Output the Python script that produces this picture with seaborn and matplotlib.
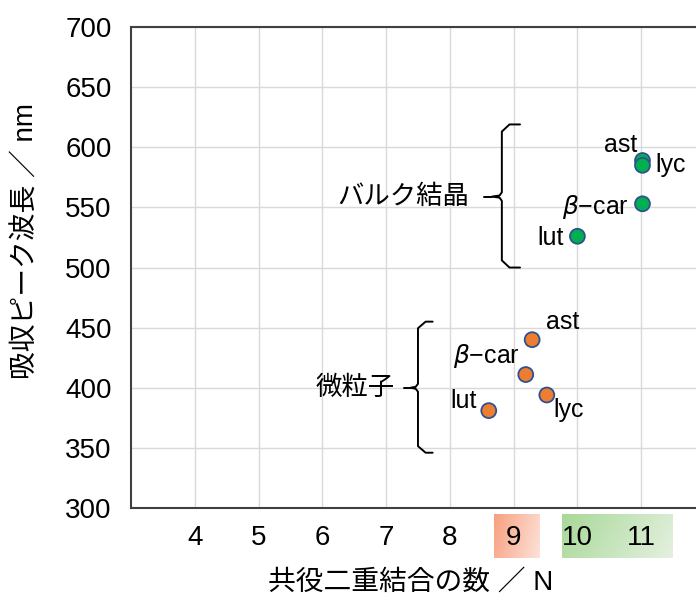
import numpy as np
import pandas as pd
import matplotlib
matplotlib.use("Agg")
import matplotlib.pyplot as plt
import seaborn as sns

# data
names = ["ast", "lyc", "β-car", "lut"]
bulk_n = [11.02, 11.02, 11.02, 10.0]
bulk_nm = [589, 585, 553, 526]
nano_n = [9.29, 9.52, 9.19, 8.61]
nano_nm = [440, 394, 411, 381]
x_ticks = [4, 5, 6, 7, 8, 9, 10, 11]
y_ticks = [300, 350, 400, 450, 500, 550, 600, 650, 700]

df = pd.DataFrame({
    "N": bulk_n + nano_n,
    "nm": bulk_nm + nano_nm,
    "name": names + names,
    "group": ["bulk"] * 4 + ["nano"] * 4,
})

sns.set_theme(style="white")
plt.rcParams["font.family"] = ["Liberation Sans", "Noto Sans CJK JP"]
plt.rcParams["text.color"] = "black"
plt.rcParams["axes.labelcolor"] = "black"

fig = plt.figure(figsize=(6.96, 6.01), dpi=100)
ax = fig.add_axes([0.1882, 0.1547, 0.8247, 0.8003])

sns.scatterplot(data=df, x="N", y="nm", hue="group",
                palette={"bulk": "#00B050", "nano": "#ED7D31"},
                s=115, edgecolor="#2F528F", linewidth=1.3,
                legend=False, ax=ax, zorder=3)

ax.set_xlim(3, 12)
ax.set_ylim(300, 700)
ax.set_xticks(x_ticks)
ax.set_yticks(y_ticks)
ax.grid(True, color="#D9D9D9", linewidth=1)
ax.set_axisbelow(True)
ax.tick_params(axis="both", length=0, labelsize=20, colors="black")
ax.tick_params(axis="y", pad=14)
ax.tick_params(axis="x", pad=12)
for side in ["left", "top", "bottom", "right"]:
    ax.spines[side].set_color("#404040")
    ax.spines[side].set_linewidth(1.5)

ax.set_xlabel("共役二重結合の数 ／ N", fontsize=20)
ax.set_ylabel("吸収ピーク波長 ／ nm", fontsize=20)
ax.xaxis.set_label_coords(0.487, -0.128)
ax.yaxis.set_label_coords(-0.160, 0.555)

# gradient boxes behind the tick labels
def grad_box(x0, x1, c0, c1):
    box = ax.inset_axes([x0, -0.104, x1 - x0, 0.0915],
                        transform=ax.get_xaxis_transform(), zorder=0.1)
    g = np.linspace(0, 1, 64)
    gx, gy = np.meshgrid(g, g)
    t = (gx * 0.8 + gy * 0.2)[..., None]
    img = (1 - t) * np.array(matplotlib.colors.to_rgb(c0)) + t * np.array(matplotlib.colors.to_rgb(c1))
    box.imshow(img, aspect="auto", extent=[0, 1, 0, 1])
    box.axis("off")

grad_box(8.69, 9.41, "#F7A080", "#FDE2D8")
grad_box(9.755, 11.495, "#A8D898", "#E4F1DF")

# point labels
lab = dict(fontsize=18, textcoords="offset points", va="center")
b = df[df.group == "bulk"].reset_index(drop=True)
n = df[df.group == "nano"].reset_index(drop=True)
ax.annotate("ast", (b.N[0], b.nm[0]), xytext=(-16, 11), ha="center", **lab)
ax.annotate("lyc", (b.N[1], b.nm[1]), xytext=(9, 0), ha="left", **lab)
ax.annotate("$\\beta$−car", (b.N[2], b.nm[2]), xytext=(-10, -2), ha="right", **lab)
ax.annotate("lut", (b.N[3], b.nm[3]), xytext=(-10, -1), ha="right", **lab)
ax.annotate("ast", (n.N[0], n.nm[0]), xytext=(22, 13), ha="center", **lab)
ax.annotate("lyc", (n.N[1], n.nm[1]), xytext=(5, -11), ha="left", **lab)
ax.annotate("$\\beta$−car", (n.N[2], n.nm[2]), xytext=(-4, 13), ha="right", **lab)
ax.annotate("lut", (n.N[3], n.nm[3]), xytext=(-9, 7), ha="right", **lab)

# curly braces for the two groups
def brace(xv, xh, xtip, xlead, top, bot, mid, text, gap):
    r = (top - bot) * 0.05
    k = 0.12
    xs = [xh, xv + k, xv, xv, xv - k * 0.3, xtip, xv - k * 0.3, xv, xv, xv + k, xh]
    ys = [top, top, top - r, mid + r * 0.6, mid + r * 0.15, mid, mid - r * 0.15,
          mid - r * 0.6, bot + r, bot, bot]
    ax.plot(xs, ys, color="black", linewidth=1.4, zorder=2, solid_joinstyle="round")
    ax.plot([xlead, xtip], [mid, mid], color="black", linewidth=1.4, zorder=2)
    ax.text(xlead - gap, mid, text, fontsize=19, ha="right", va="center")

brace(8.815, 9.10, 8.66, 8.53, 619, 500, 559, "バルク結晶", 0.23)
brace(7.50, 7.73, 7.38, 7.28, 455, 346, 400, "微粒子", 0.15)

fig.savefig("out.png", dpi=100)
